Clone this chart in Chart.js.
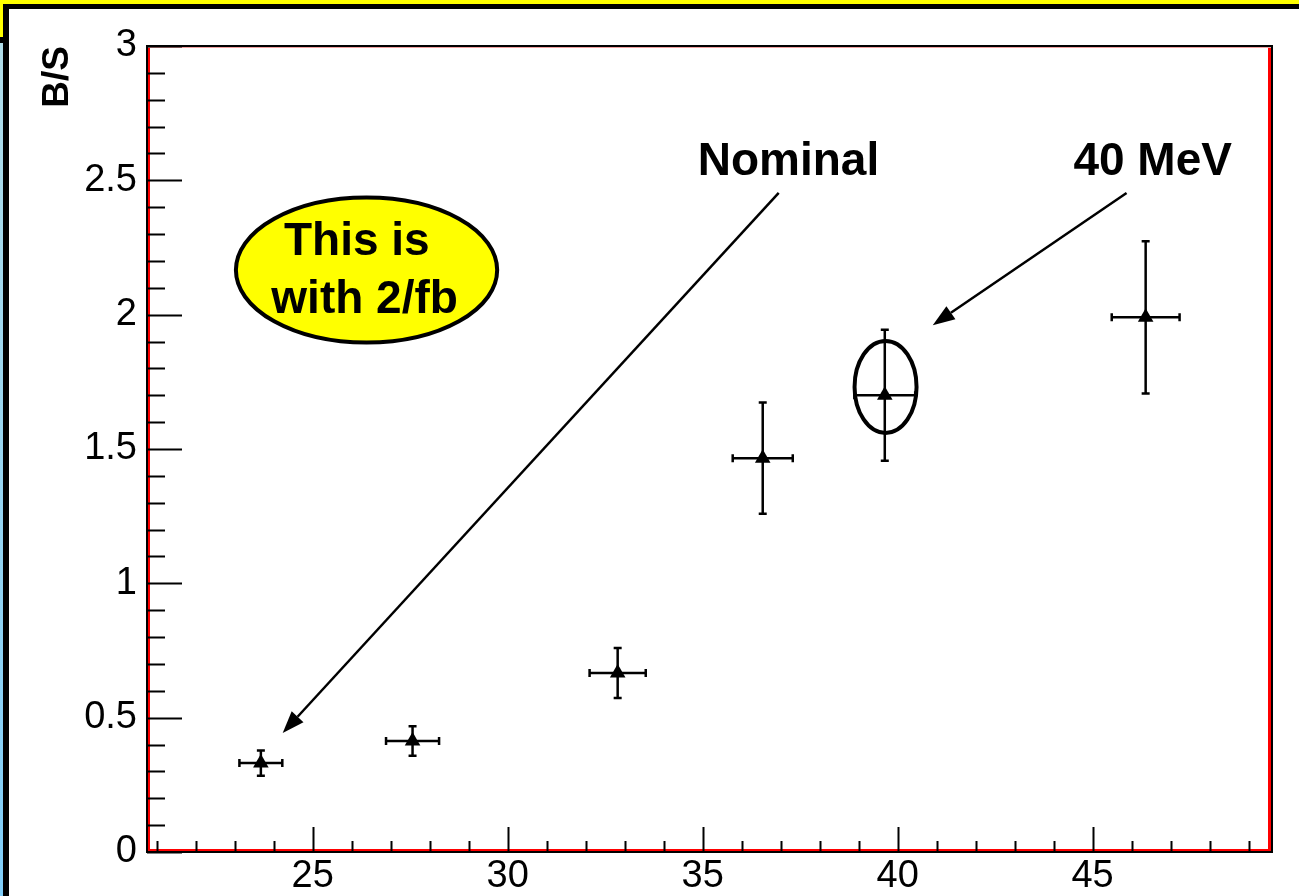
<!DOCTYPE html>
<html>
<head>
<meta charset="utf-8">
<script src="https://cdn.jsdelivr.net/npm/chart.js@4.4.1/dist/chart.umd.min.js"></script>
<style>
    html, body { margin: 0; padding: 0; background: #fff; overflow: hidden; }
    #page { position: relative; width: 1299px; height: 896px; }
    .band { position: absolute; }
    #wrap { position: absolute; left: 9px; top: 9px; width: 1290px; height: 887px; }
</style>
</head>
<body>
<div id="page">
    <div class="band" style="left:0;top:0;width:1299px;height:4px;background:#ffff00"></div>
    <div class="band" style="left:0;top:0;width:3px;height:37px;background:#ffff00"></div>
    <div class="band" style="left:3px;top:4px;width:1296px;height:5px;background:#000"></div>
    <div class="band" style="left:3px;top:4px;width:6px;height:892px;background:#000"></div>
    <div class="band" style="left:0;top:37px;width:3px;height:6px;background:#000"></div>
    <div class="band" style="left:0;top:43px;width:3px;height:853px;background:linear-gradient(#b0dce8,#80cdf8)"></div>
    <div id="wrap"><canvas id="plot" width="1290" height="887"></canvas></div>
</div>
<script>
// measured points (B/S vs resolution)
const xVals = [23.67, 27.56, 32.82, 36.54, 39.67, 46.36];
const yVals = [0.331, 0.413, 0.666, 1.466, 1.700, 1.990];
const xErr = [0.55, 0.68, 0.72, 0.77, 0.78, 0.87];
const yErr = [0.047, 0.055, 0.093, 0.207, 0.244, 0.283];

const xTicks = [25, 30, 35, 40, 45];
const yTicks = [0, 0.5, 1, 1.5, 2, 2.5, 3];
const X_MIN = 20.75, X_MAX = 49.6;
const Y_MIN = 0, Y_MAX = 3;
const X_MINOR = 1, Y_MINOR = 0.1;

// annotations, in data units
const labels = [
    { text: 'Nominal', x: 37.2, y: 2.52 },
    { text: '40 MeV', x: 46.54, y: 2.52 }
];
const arrows = [
    { from: [36.95, 2.453], to: [24.23, 0.443] },
    { from: [45.87, 2.453], to: [40.9, 1.961] }
];
const bubble = { x: 26.38, y: 2.166, rx: 3.35, ry: 0.27 };
const bubbleText = [
    { text: 'This is', x: 26.13, y: 2.222 },
    { text: 'with 2/fb', x: 26.33, y: 2.006 }
];
const ring = { x: 39.69, y: 1.731, rx: 0.795, ry: 0.171 };

const FONT = "'Liberation Sans', Arial, Helvetica, sans-serif";

function drawArrow(ctx, x0, y0, x1, y1) {
    const ang = Math.atan2(y1 - y0, x1 - x0);
    const len = 22, half = 8;
    const bx = x1 - len * Math.cos(ang), by = y1 - len * Math.sin(ang);
    ctx.beginPath();
    ctx.moveTo(x0, y0);
    ctx.lineTo(bx, by);
    ctx.stroke();
    ctx.beginPath();
    ctx.moveTo(x1, y1);
    ctx.lineTo(bx + half * Math.sin(ang), by - half * Math.cos(ang));
    ctx.lineTo(bx - half * Math.sin(ang), by + half * Math.cos(ang));
    ctx.closePath();
    ctx.fill();
}

const rootStyle = {
    id: 'rootStyle',
    beforeDatasetsDraw(chart) {
        const { ctx, chartArea: a, scales: { x, y } } = chart;
        ctx.save();

        // frame
        ctx.strokeStyle = '#000';
        ctx.lineWidth = 2;
        ctx.strokeRect(a.left, a.top, a.right - a.left, a.bottom - a.top);
        ctx.fillStyle = '#ff0000';
        ctx.fillRect(a.left + 1, a.top + 1, 2, a.bottom - a.top - 2);
        ctx.fillRect(a.left + 1, a.bottom - 3, a.right - a.left - 2, 2);
        ctx.fillRect(a.right - 4, a.top + 1, 3, a.bottom - a.top - 2);
        ctx.fillStyle = '#f0a0a0';
        ctx.fillRect(a.left + 1, a.top + 1, a.right - a.left - 2, 1);

        // ticks drawn inside the frame, ROOT style
        ctx.strokeStyle = '#000';
        ctx.lineWidth = 2;
        ctx.beginPath();
        for (let v = Y_MIN; v <= Y_MAX + 1e-9; v += Y_MINOR) {
            const major = Math.abs(v / 0.5 - Math.round(v / 0.5)) < 1e-6;
            const py = Math.round(y.getPixelForValue(v)) + 0.5;
            ctx.moveTo(a.left, py);
            ctx.lineTo(a.left + (major ? 35 : 18), py);
        }
        for (let v = Math.ceil(X_MIN); v <= X_MAX; v += X_MINOR) {
            const major = v % 5 === 0;
            const px = Math.round(x.getPixelForValue(v)) + 0.5;
            ctx.moveTo(px, a.bottom);
            ctx.lineTo(px, a.bottom - (major ? 25 : 11));
        }
        ctx.stroke();

        // error bars
        ctx.lineWidth = 2.5;
        ctx.beginPath();
        xVals.forEach((xv, i) => {
            const px = x.getPixelForValue(xv), py = y.getPixelForValue(yVals[i]);
            const x0 = x.getPixelForValue(xv - xErr[i]), x1 = x.getPixelForValue(xv + xErr[i]);
            const y0 = y.getPixelForValue(yVals[i] - yErr[i]), y1 = y.getPixelForValue(yVals[i] + yErr[i]);
            ctx.moveTo(x0, py); ctx.lineTo(x1, py);
            ctx.moveTo(px, y0); ctx.lineTo(px, y1);
            ctx.moveTo(x0, py - 4); ctx.lineTo(x0, py + 4);
            ctx.moveTo(x1, py - 4); ctx.lineTo(x1, py + 4);
            ctx.moveTo(px - 4, y0); ctx.lineTo(px + 4, y0);
            ctx.moveTo(px - 4, y1); ctx.lineTo(px + 4, y1);
        });
        ctx.stroke();
        ctx.restore();
    },
    afterDatasetsDraw(chart) {
        const { ctx, scales: { x, y } } = chart;
        ctx.save();
        ctx.fillStyle = '#000';
        ctx.strokeStyle = '#000';

        // yellow bubble
        const ppx = x.getPixelForValue(1) - x.getPixelForValue(0);
        const ppy = y.getPixelForValue(0) - y.getPixelForValue(1);
        ctx.beginPath();
        ctx.ellipse(x.getPixelForValue(bubble.x), y.getPixelForValue(bubble.y),
            bubble.rx * ppx, bubble.ry * ppy, 0, 0, Math.PI * 2);
        ctx.fillStyle = '#ffff00';
        ctx.fill();
        ctx.lineWidth = 4;
        ctx.stroke();

        ctx.fillStyle = '#000';
        ctx.font = 'bold 46px ' + FONT;
        ctx.textAlign = 'center';
        ctx.textBaseline = 'alphabetic';
        bubbleText.concat(labels).forEach(t => {
            ctx.fillText(t.text, x.getPixelForValue(t.x), y.getPixelForValue(t.y));
        });

        // ring round the 40 MeV point
        ctx.beginPath();
        ctx.ellipse(x.getPixelForValue(ring.x), y.getPixelForValue(ring.y),
            ring.rx * ppx, ring.ry * ppy, 0, 0, Math.PI * 2);
        ctx.lineWidth = 4;
        ctx.stroke();

        ctx.lineWidth = 2.5;
        arrows.forEach(ar => {
            drawArrow(ctx,
                x.getPixelForValue(ar.from[0]), y.getPixelForValue(ar.from[1]),
                x.getPixelForValue(ar.to[0]), y.getPixelForValue(ar.to[1]));
        });
        ctx.restore();
    }
};

const points = xVals.map((v, i) => ({ x: v, y: yVals[i] }));

new Chart(document.getElementById('plot').getContext('2d'), {
    type: 'scatter',
    data: {
        datasets: [{
            data: points,
            pointStyle: 'triangle',
            pointRadius: 9,
            backgroundColor: '#000',
            borderColor: '#000',
            borderWidth: 0
        }]
    },
    options: {
        responsive: false,
        animation: false,
        layout: { padding: { left: 0, top: 37, right: 27, bottom: 0 } },
        plugins: { legend: { display: false }, tooltip: { enabled: false } },
        scales: {
            x: {
                type: 'linear',
                min: X_MIN,
                max: X_MAX,
                grid: { display: false, drawTicks: false },
                border: { display: false },
                afterBuildTicks: s => { s.ticks = xTicks.map(v => ({ value: v })); },
                afterFit: s => { s.height = 44; },
                ticks: {
                    color: '#000',
                    font: { family: FONT, size: 38 },
                    padding: 2,
                    maxRotation: 0,
                    autoSkip: false,
                    callback: v => String(v)
                }
            },
            y: {
                type: 'linear',
                min: Y_MIN,
                max: Y_MAX,
                grid: { display: false, drawTicks: false },
                border: { display: false },
                afterBuildTicks: s => { s.ticks = yTicks.map(v => ({ value: v })); },
                afterFit: s => { s.width = 138; },
                ticks: {
                    color: '#000',
                    font: { family: FONT, size: 38 },
                    padding: 10,
                    autoSkip: false,
                    callback: v => String(v)
                },
                title: {
                    display: true,
                    text: 'B/S',
                    align: 'end',
                    color: '#000',
                    font: { family: FONT, size: 37, weight: 'bold' },
                    padding: { top: 27, bottom: 0 }
                }
            }
        }
    },
    plugins: [rootStyle]
});
</script>
</body>
</html>
